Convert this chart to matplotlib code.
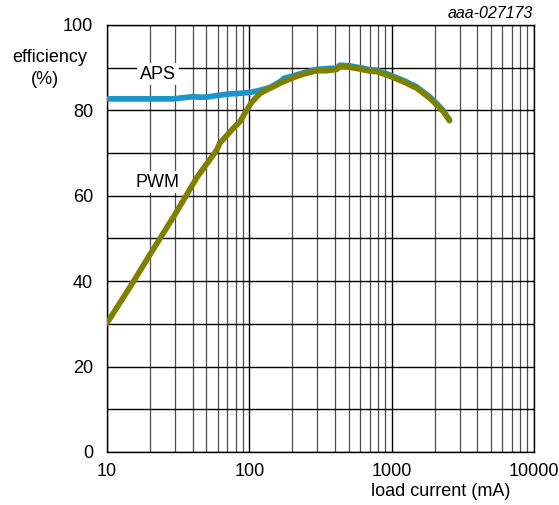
import matplotlib
matplotlib.use('Agg')
import matplotlib.pyplot as plt
from matplotlib.ticker import FixedLocator, FixedFormatter, LogLocator, NullFormatter

plt.rcParams['font.family'] = ['Liberation Sans', 'DejaVu Sans']

# load current (mA) and efficiency (%)
aps_current = [10, 15, 20, 29, 35, 40, 45, 50, 60, 70, 85, 101, 115, 125, 140, 164,
               175, 204, 240, 297, 350, 411, 434, 509, 600, 705, 785, 975, 1209, 1500,
               1862, 2074, 2309, 2550]
aps_eff = [82.7, 82.7, 82.7, 82.7, 83.0, 83.2, 83.1, 83.1, 83.5, 83.8, 84.0, 84.2, 84.6, 84.9, 85.4, 86.7,
           87.5, 88.1, 88.8, 89.6, 89.8, 89.9, 90.6, 90.4, 90.0, 89.5, 89.4, 88.3, 87.0, 85.5,
           83.1, 81.6, 79.9, 77.7]

pwm_current = [10, 15, 20, 30, 43, 59, 62, 77, 86, 96, 104, 119, 140, 173, 204, 240,
               297, 350, 411, 434, 509, 600, 705, 785, 975, 1209, 1500, 1862, 2074, 2309, 2550]
pwm_eff = [30.2, 39.4, 46.2, 55.6, 64.4, 70.7, 72.3, 75.8, 77.4, 80.1, 81.9, 84.0, 85.2, 86.7, 87.7, 88.5,
           89.3, 89.3, 89.6, 90.3, 90.1, 89.7, 89.2, 89.1, 88.0, 86.7, 85.2, 82.8, 81.3, 79.7, 77.6]

x_ticks = [10, 100, 1000, 10000]
x_tick_labels = ['10', '100', '1000', '10000']
y_ticks = [0, 20, 40, 60, 80, 100]

fig = plt.figure(figsize=(5.59, 5.05), dpi=100)
ax = fig.add_axes([107 / 559, 1 - 452 / 505, 427 / 559, 427 / 505])

ax.set_xscale('log')
ax.set_xlim(10, 10000)
ax.set_ylim(0, 100)

# grid: decades and every 10 % in black, minor decades in dark grey
ax.xaxis.set_major_locator(FixedLocator(x_ticks))
ax.xaxis.set_major_formatter(FixedFormatter(x_tick_labels))
ax.xaxis.set_minor_locator(LogLocator(base=10, subs=range(2, 10)))
ax.xaxis.set_minor_formatter(NullFormatter())
ax.yaxis.set_major_locator(FixedLocator(y_ticks))
ax.yaxis.set_minor_locator(FixedLocator(range(10, 100, 20)))

ax.grid(which='major', axis='both', color='black', lw=1.0)
ax.grid(which='minor', axis='y', color='black', lw=1.0)
ax.grid(which='minor', axis='x', color='0.3', lw=0.9)
ax.tick_params(which='both', length=0, labelsize=13)
ax.tick_params(axis='x', pad=8)
ax.tick_params(axis='y', pad=10)
for s in ax.spines.values():
    s.set_color('black')
    s.set_linewidth(1.0)

ax.plot(aps_current, aps_eff, color='#1a96cc', lw=4.1, solid_capstyle='round',
        solid_joinstyle='round', zorder=3)
ax.plot(pwm_current, pwm_eff, color='#7f7f00', lw=4.1, solid_capstyle='round',
        solid_joinstyle='round', zorder=4)

box = dict(facecolor='white', edgecolor='none', pad=2)
ax.text(22.8, 88.5, 'APS', fontsize=13, ha='center', va='center', bbox=box, zorder=5)
ax.text(22.8, 63.2, 'PWM', fontsize=13, ha='center', va='center', bbox=box, zorder=5)

fig.text(50 / 559, 1 - 57 / 505, 'efficiency', fontsize=13, ha='center', va='center')
fig.text(45 / 559, 1 - 79 / 505, '(%)', fontsize=13, ha='center', va='center')
fig.text(441 / 559, 1 - 492 / 505, 'load current (mA)', fontsize=13, ha='center', va='center')
fig.text(533 / 559, 1 - 13 / 505, 'aaa-027173', fontsize=11.5, style='italic', ha='right', va='center')

fig.savefig('out.png', dpi=100)
